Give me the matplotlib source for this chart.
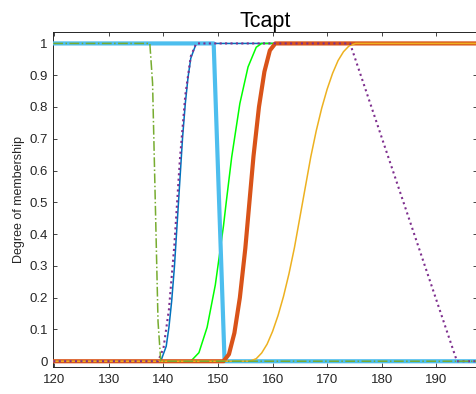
import matplotlib
matplotlib.use("Agg")
import matplotlib.pyplot as plt

plt.rcParams['font.family'] = ['Liberation Sans', 'DejaVu Sans']

# membership curves (x = Tcapt, y = degree of membership)
X_MIN, X_MAX = 119.8, 197.4

green_dd_x = [X_MIN, 137.5, 138.0, 138.5, 139.0, 139.5, X_MAX]
green_dd_y = [1, 1, 0.875, 0.5, 0.125, 0, 0]

cyan_x = [X_MIN, 149.2, 151.2, X_MAX]
cyan_y = [1, 1, 0, 0]

blue_x = [X_MIN, 139.5, 140.5, 141.0, 141.5, 142.0, 142.75, 143.5, 144.0, 144.5, 145.0, 146.0, X_MAX]
blue_y = [0, 0, 0.047, 0.107, 0.189, 0.296, 0.5, 0.704, 0.811, 0.893, 0.953, 1, 1]

lime_x = [X_MIN, 145.0, 146.5, 148.0, 149.5, 151.0, 151.5, 152.5, 154.0, 155.5, 157.0, 158.0, X_MAX]
lime_y = [0, 0, 0.027, 0.107, 0.24, 0.426, 0.5, 0.642, 0.811, 0.926, 0.988, 1, 1]

red_x = [X_MIN, 151.0, 152.0, 153.0, 154.0, 155.0, 155.75, 156.5, 157.5, 158.5, 159.5, 160.5, X_MAX]
red_y = [0, 0, 0.022, 0.089, 0.2, 0.355, 0.5, 0.645, 0.8, 0.911, 0.978, 1, 1]

yellow_x = [X_MIN, 155.8, 157.0, 158.0, 159.0, 160.0, 161.0, 162.0, 163.0, 164.0, 165.5,
            167.0, 168.0, 169.0, 170.0, 171.0, 172.0, 173.0, 174.0, 175.2, X_MAX]
yellow_y = [0, 0, 0.008, 0.026, 0.054, 0.094, 0.144, 0.204, 0.275, 0.357, 0.5,
            0.643, 0.725, 0.796, 0.856, 0.906, 0.946, 0.974, 0.992, 1, 1]

purple_x = [X_MIN, 139.0, 140.0, 141.0, 142.0, 142.5, 143.0, 144.0, 145.0, 146.0, 174.2, 193.8, X_MAX]
purple_y = [0, 0, 0.041, 0.163, 0.367, 0.5, 0.633, 0.837, 0.959, 1, 1, 0, 0]

fig = plt.figure(figsize=(4.77, 3.94), dpi=100)
ax = fig.add_axes([0.1117, 0.0678, 0.8875, 0.8502])

ax.plot(blue_x, blue_y, color='#0072BD', lw=1.1, zorder=2)
ax.plot(lime_x, lime_y, color='#00FF00', lw=1.1, zorder=2)
ax.plot(cyan_x, cyan_y, color='#4DBEEE', lw=3.0, zorder=3)
ax.plot(red_x, red_y, color='#D95319', lw=3.0, zorder=3)
ax.plot(yellow_x, yellow_y, color='#EDB120', lw=1.1, zorder=4)
ax.plot(purple_x, purple_y, color='#7E2F8E', lw=1.5, ls=(0, (1, 1.6)), zorder=5)
ax.plot(green_dd_x, green_dd_y, color='#77AC30', lw=1.1, ls='-.', zorder=5)

ax.set_xlim(X_MIN, X_MAX)
ax.set_ylim(-0.019, 1.035)
ax.set_xticks(range(120, 191, 10))
ax.set_yticks([i / 10 for i in range(11)])
ax.set_yticklabels(['0', '0.1', '0.2', '0.3', '0.4', '0.5', '0.6', '0.7', '0.8', '0.9', '1'])

ax.tick_params(direction='in', length=3, width=0.6, top=True, right=True,
               labelsize=9.5, colors='#262626')
ax.tick_params(axis='x', pad=5)
ax.tick_params(axis='y', pad=4)
for s in ax.spines.values():
    s.set_color('#262626')
    s.set_linewidth(0.7)

ax.set_ylabel('Degree of membership', fontsize=9, color='#262626', labelpad=3)
ax.set_title('Tcapt', fontsize=15.5, color='black', pad=4)

fig.savefig('out.png', dpi=100, facecolor='white')
